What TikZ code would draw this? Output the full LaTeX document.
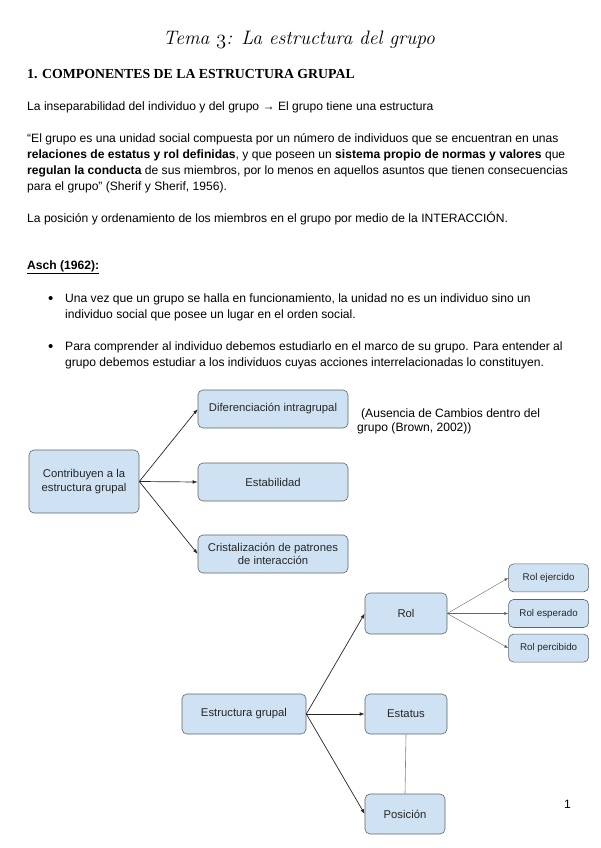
\documentclass[tikz,border=0pt]{standalone}
\usepackage{fontspec}
\setmainfont{Liberation Sans}
\newfontfamily\headfont{Liberation Serif}
\definecolor{BoxFill}{HTML}{CFE2F3}
\definecolor{BoxLine}{HTML}{5F6368}
\definecolor{BoxText}{HTML}{262626}
\usetikzlibrary{arrows.meta, positioning}
\newcommand{\oldthree}{{\fontencoding{OML}\fontfamily{cmm}\fontseries{m}\fontshape{it}\selectfont 3}}

\begin{document}
\begin{tikzpicture}[x=1pt, y=-1pt,
      txt/.style={anchor=west, inner sep=0pt, font=\fontsize{12.1}{14}\selectfont},
      box/.style={draw=BoxLine, line width=0.6pt, fill=BoxFill, rounded corners=5pt,
        align=center, text=BoxText, inner sep=0pt, font=\fontsize{11.3}{13.5}\selectfont},
      subbox/.style={box, minimum width=80pt, minimum height=28pt, font=\fontsize{9.8}{12}\selectfont},
      arr/.style={-{Latex[length=5pt, width=3.6pt]}, line width=0.7pt, black!85},
      thinarr/.style={-{Latex[length=4pt, width=3pt]}, line width=0.4pt, black!60},
      link/.style={line width=0.6pt, black!50}
    ]
      \useasboundingbox (0,0) rectangle (600,848);
      % header
      \node[inner sep=0pt, font=\fontsize{19.5}{22}\fontfamily{lmr}\fontshape{it}\selectfont] (title) at (299,40)
        {Tema \oldthree: La estructura del grupo};
      \node[txt, font=\headfont\bfseries\fontsize{13.8}{16}\selectfont] (heading) at (27,74)
        {1. COMPONENTES DE LA ESTRUCTURA GRUPAL};
      \node[txt] (intro) at (27,107) {La inseparabilidad del individuo y del grupo → El grupo tiene una estructura};
      % quote
      \node[txt] (q1) at (27,139) {“El grupo es una unidad social compuesta por un número de individuos que se encuentran en unas};
      \node[txt] (q2) at (27,155) {\textbf{relaciones de estatus y rol definidas}, y que poseen un \textbf{sistema propio de normas y valores} que};
      \node[txt] (q3) at (27,171) {\textbf{regulan la conducta} de sus miembros, por lo menos en aquellos asuntos que tienen consecuencias};
      \node[txt] (q4) at (27,187) {para el grupo” (Sherif y Sherif, 1956).};
      \node[txt] (pos) at (27,219) {La posición y ordenamiento de los miembros en el grupo por medio de la INTERACCIÓN.};
      \node[txt] (asch) at (27,267) {\textbf{\underline{Asch (1962):}}};
      % bullets
      \node[txt, font=\fontsize{15}{15}\selectfont] (dot1) at (48,300) {•};
      \node[txt] (b1a) at (65,299) {Una vez que un grupo se halla en funcionamiento, la unidad no es un individuo sino un};
      \node[txt] (b1b) at (65,315) {individuo social que posee un lugar en el orden social.};
      \node[txt, font=\fontsize{15}{15}\selectfont] (dot2) at (48,348) {•};
      \node[txt] (b2a) at (65,347) {Para comprender al individuo debemos estudiarlo en el marco de su grupo. Para entender al};
      \node[txt] (b2b) at (65,363) {grupo debemos estudiar a los individuos cuyas acciones interrelacionadas lo constituyen.};

      % first diagram
      \node[box, minimum width=110pt, minimum height=63pt] (contrib) at (84,481.5) {Contribuyen a la\\estructura grupal};
      \node[box, minimum width=150pt, minimum height=38pt] (dif) at (273,409) {Diferenciación intragrupal};
      \node[box, minimum width=150pt, minimum height=38pt] (estab) at (273,482) {Estabilidad};
      \node[box, minimum width=150pt, minimum height=38pt] (crist) at (273,554) {Cristalización de patrones\\de interacción};
      \node[txt, align=left] (brown) at (357,421) {\hspace*{4pt}(Ausencia de Cambios dentro del\\grupo (Brown, 2002))};
      \draw[arr] (contrib.east) -- (dif.west);
      \draw[arr] (contrib.east) -- (estab.west);
      \draw[arr] (contrib.east) -- (crist.west);

      % second diagram
      \node[box, minimum width=124pt, minimum height=40pt] (estr) at (244,714) {Estructura grupal};
      \node[box, minimum width=82pt, minimum height=41pt] (rol) at (406,613.5) {Rol};
      \node[box, minimum width=82pt, minimum height=40pt] (estatus) at (406,714) {Estatus};
      \node[box, minimum width=80pt, minimum height=40pt] (posicion) at (405,814) {Posición};
      \node[subbox, right=61pt of rol] (rolesp) {Rol esperado};
      \node[subbox, above=7pt of rolesp] (rolej) {Rol ejercido};
      \node[subbox, below=6pt of rolesp] (rolper) {Rol percibido};
      \draw[arr] (estr.east) -- (rol.west);
      \draw[arr] (estr.east) -- (estatus.west);
      \draw[arr] (estr.east) -- (posicion.west);
      \draw[thinarr] (rol.east) -- (rolej.west);
      \draw[thinarr] (rol.east) -- (rolesp.west);
      \draw[thinarr] (rol.east) -- (rolper.west);
      \draw[link] (estatus.south) -- (posicion.north);

      \node[txt] (pagenum) at (564,804) {1};
    \end{tikzpicture}
\end{document}
